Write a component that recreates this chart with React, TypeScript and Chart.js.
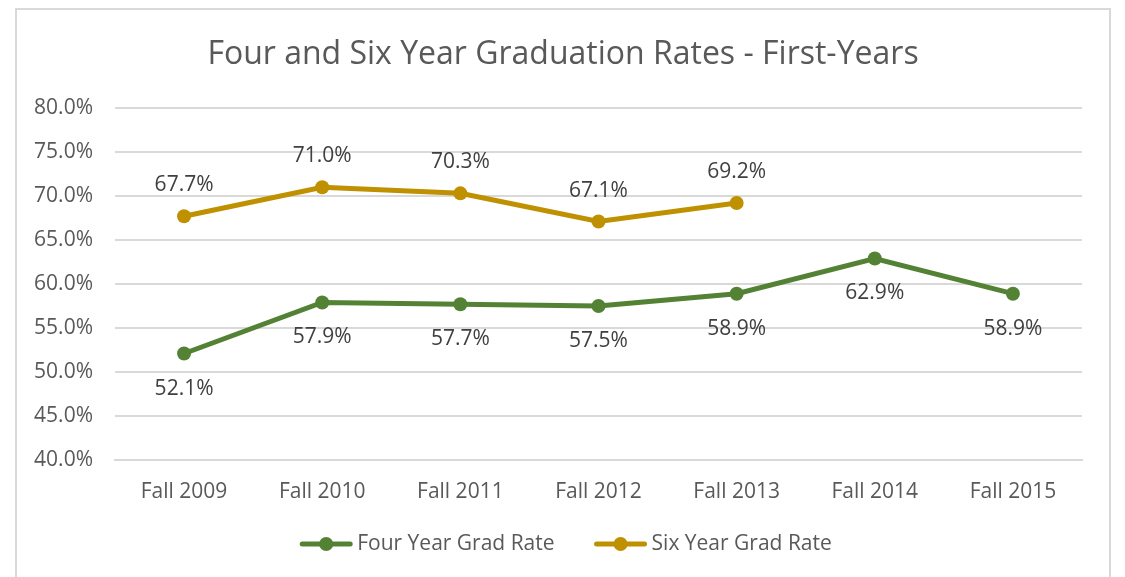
import React, { useEffect, useRef } from "react";
import { Chart, registerables } from "chart.js";

Chart.register(...registerables);

const categories = ["Fall 2009", "Fall 2010", "Fall 2011", "Fall 2012", "Fall 2013", "Fall 2014", "Fall 2015"];
const fourYear = [52.1, 57.9, 57.7, 57.5, 58.9, 62.9, 58.9];
const sixYear: (number | null)[] = [67.7, 71.0, 70.3, 67.1, 69.2, null, null];
const seriesNames = ["Four Year Grad Rate", "Six Year Grad Rate"];
const titleText = "Four and Six Year Graduation Rates - First-Years";

const GREEN = "#548235";
const GOLD = "#BF9000";
const AXIS_TEXT = "#595959";
const LABEL_TEXT = "#404040";
const FONT = "'Open Sans', sans-serif";

const W = 1092;
const H = 596;

export default function App() {
  const ref = useRef<HTMLCanvasElement | null>(null);

  useEffect(() => {
    const canvas = ref.current;
    if (!canvas) return;

    const overlay = {
      id: "overlay",
      afterDatasetsDraw(chart: any) {
        const ctx = chart.ctx;
        ctx.save();
        ctx.font = `21px ${FONT}`;
        ctx.fillStyle = LABEL_TEXT;
        ctx.textAlign = "center";
        ctx.textBaseline = "middle";
        chart.data.datasets.forEach((ds: any, di: number) => {
          const meta = chart.getDatasetMeta(di);
          meta.data.forEach((pt: any, i: number) => {
            const v = ds.data[i];
            if (v === null || v === undefined) return;
            const dy = di === 0 ? 35 : -31;
            ctx.fillText(v.toFixed(1) + "%", pt.x, pt.y + dy);
          });
        });
        ctx.restore();
      },
      afterDraw(chart: any) {
        const ctx = chart.ctx;
        ctx.save();
        ctx.font = `32px ${FONT}`;
        ctx.fillStyle = AXIS_TEXT;
        ctx.textAlign = "center";
        ctx.textBaseline = "middle";
        ctx.fillText(titleText, W / 2, 45);
        ctx.font = `21px ${FONT}`;
        const lineLen = 52;
        const gapText = 5;
        const gapItem = 40;
        const colors = [GREEN, GOLD];
        const widths = seriesNames.map((n) => ctx.measureText(n).width);
        const total = widths.reduce((a, w) => a + lineLen + gapText + w, 0) + gapItem;
        let x = 549 - total / 2;
        const y = 534;
        ctx.textAlign = "left";
        seriesNames.forEach((n, i) => {
          ctx.strokeStyle = colors[i];
          ctx.lineWidth = 5;
          ctx.lineCap = "round";
          ctx.beginPath();
          ctx.moveTo(x + 2, y);
          ctx.lineTo(x + lineLen - 2, y);
          ctx.stroke();
          ctx.fillStyle = colors[i];
          ctx.beginPath();
          ctx.arc(x + lineLen / 2, y, 7, 0, Math.PI * 2);
          ctx.fill();
          ctx.fillStyle = AXIS_TEXT;
          ctx.fillText(n, x + lineLen + gapText, y);
          x += lineLen + gapText + widths[i] + gapItem;
        });
        ctx.restore();
      },
    };

    const chart = new Chart(canvas, {
      type: "line",
      data: {
        labels: categories,
        datasets: [
          {
            label: seriesNames[0],
            data: fourYear,
            borderColor: GREEN,
            backgroundColor: GREEN,
            borderWidth: 5,
            pointRadius: 7,
            pointHoverRadius: 7,
            pointBorderWidth: 0,
            tension: 0,
          },
          {
            label: seriesNames[1],
            data: sixYear,
            borderColor: GOLD,
            backgroundColor: GOLD,
            borderWidth: 5,
            pointRadius: 7,
            pointHoverRadius: 7,
            pointBorderWidth: 0,
            tension: 0,
          },
        ],
      },
      options: {
        responsive: false,
        animation: false,
        layout: { padding: { top: 98, right: 27, bottom: 86, left: 0 } },
        plugins: {
          legend: { display: false },
          title: { display: false },
          tooltip: { enabled: false },
        },
        scales: {
          x: {
            offset: true,
            grid: { display: false, drawTicks: false },
            border: { display: true, color: "#d9d9d9", width: 2 },
            ticks: {
              color: AXIS_TEXT,
              font: { family: FONT, size: 21 },
              padding: 19,
              maxRotation: 0,
            },
            afterFit: (s: any) => {
              s.height = 60;
            },
          },
          y: {
            min: 40,
            max: 80,
            grid: { color: "#d9d9d9", lineWidth: 2, drawTicks: false },
            border: { display: false },
            ticks: {
              stepSize: 5,
              color: AXIS_TEXT,
              font: { family: FONT, size: 21 },
              padding: 22,
              callback: (v: any) => Number(v).toFixed(1) + "%",
            },
            afterFit: (s: any) => {
              s.width = 98;
            },
          },
        },
      },
      plugins: [overlay],
    });
    return () => chart.destroy();
  }, []);

  return (
    <div
      style={{
        marginLeft: 7,
        width: 1096,
        height: 600,
        border: "2px solid #d9d9d9",
        boxSizing: "border-box",
        background: "#fff",
      }}
    >
      <canvas ref={ref} width={W} height={H} style={{ display: "block" }} />
    </div>
  );
}
